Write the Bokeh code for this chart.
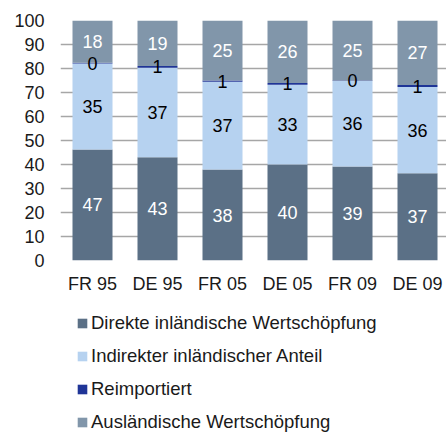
import numpy as np
from bokeh.plotting import figure
from bokeh.layouts import column
from bokeh.models import ColumnDataSource, Range1d, FixedTicker, Legend
from bokeh.core.properties import value
from bokeh.embed import file_html
from bokeh.resources import INLINE

categories = ["FR 95", "DE 95", "FR 05", "DE 05", "FR 09", "DE 09"]
direct = [46.3, 43.0, 37.9, 40.0, 39.2, 36.4]
indirect = [35.8, 37.3, 36.6, 33.2, 35.6, 35.9]
reimported = [0.3, 0.7, 0.5, 0.8, 0.2, 0.8]
foreign = [17.6, 19.0, 25.0, 26.0, 25.0, 26.9]

direct_labels = ["47", "43", "38", "40", "39", "37"]
indirect_labels = ["35", "37", "37", "33", "36", "36"]
reimported_labels = ["0", "1", "1", "1", "0", "1"]
foreign_labels = ["18", "19", "25", "26", "25", "27"]

y_ticks = list(range(0, 101, 10))

series_names = ["Direkte inländische Wertschöpfung", "Indirekter inländischer Anteil",
                "Reimportiert", "Ausländische Wertschöpfung"]
colors = ["#5b7086", "#b6d2f0", "#1f3597", "#8196aa"]
keys = ["direct", "indirect", "reimported", "foreign"]

x = list(range(len(categories)))
FONT = "Liberation Sans"
FS = "18px"

src = ColumnDataSource(dict(x=x, direct=direct, indirect=indirect,
                            reimported=reimported, foreign=foreign))

p = figure(frame_width=386, frame_height=240, output_backend="svg", toolbar_location=None,
           x_range=Range1d(-32 / 65, 354 / 65), y_range=Range1d(0, 100),
           min_border_left=60, min_border_right=0, min_border_top=20,
           min_border_bottom=36)
p.outline_line_color = None
p.background_fill_color = "white"

renderers = p.vbar_stack(keys, x="x", width=40 / 65, source=src, color=colors,
                         line_color=None)

d = np.array(direct); i = np.array(indirect); r = np.array(reimported); f = np.array(foreign)
label_sets = [
    (d / 2, direct_labels, "white"),
    (d + i / 2, indirect_labels, "black"),
    (d + i + r / 2, reimported_labels, "black"),
    (d + i + r + f / 2, foreign_labels, "white"),
]
for ys, txt, col in label_sets:
    p.text(x=x, y=list(ys), text=txt, text_align="center", text_baseline="middle",
           text_color=col, text_font=value(FONT), text_font_size=FS)

p.yaxis.ticker = FixedTicker(ticks=y_ticks)
p.yaxis.axis_line_color = None
p.yaxis.major_tick_line_color = None
p.yaxis.minor_tick_line_color = None
p.yaxis.major_tick_out = 0
p.yaxis.major_label_standoff = 16
p.yaxis.major_label_text_font = FONT
p.yaxis.major_label_text_font_size = FS
p.yaxis.major_label_text_color = "#1a1a1a"

p.xaxis.ticker = FixedTicker(ticks=x)
p.xaxis.major_label_overrides = {k: v for k, v in zip(x, categories)}
p.xaxis.axis_line_color = None
p.xaxis.major_tick_line_color = None
p.xaxis.minor_tick_line_color = None
p.xaxis.major_tick_out = 0
p.xaxis.major_label_standoff = 13
p.xaxis.major_label_text_font = FONT
p.xaxis.major_label_text_font_size = FS
p.xaxis.major_label_text_color = "#1a1a1a"

p.xgrid.grid_line_color = None
p.ygrid.ticker = FixedTicker(ticks=y_ticks)
p.ygrid.grid_line_color = "#a6a6a6"
p.ygrid.grid_line_width = 1.5

# legend panel: its ranges lie away from all bar data, so only the legend swatches show
p2 = figure(frame_width=386, frame_height=139, output_backend="svg", toolbar_location=None,
            x_axis_location=None, y_axis_location=None,
            x_range=Range1d(-30, -29), y_range=Range1d(-30, -29),
            min_border_left=60, min_border_right=0, min_border_top=0, min_border_bottom=0)
p2.outline_line_color = None
p2.grid.visible = False
legend_renderers = p2.vbar_stack(keys, x="x", width=40 / 65, source=src, color=colors,
                                 line_color=None)
legend = Legend(items=[(n, [rr]) for n, rr in zip(series_names, legend_renderers)],
                location="top_left", orientation="vertical",
                padding=0, margin=16, spacing=11, label_height=20,
                glyph_width=12, glyph_height=12, label_standoff=3,
                label_text_font=FONT, label_text_font_size="18.5px",
                label_text_color="#1a1a1a", border_line_color=None,
                background_fill_alpha=0)
p2.add_layout(legend, "center")

open("out.html", "w").write(file_html(column(p, p2, spacing=0), INLINE))
